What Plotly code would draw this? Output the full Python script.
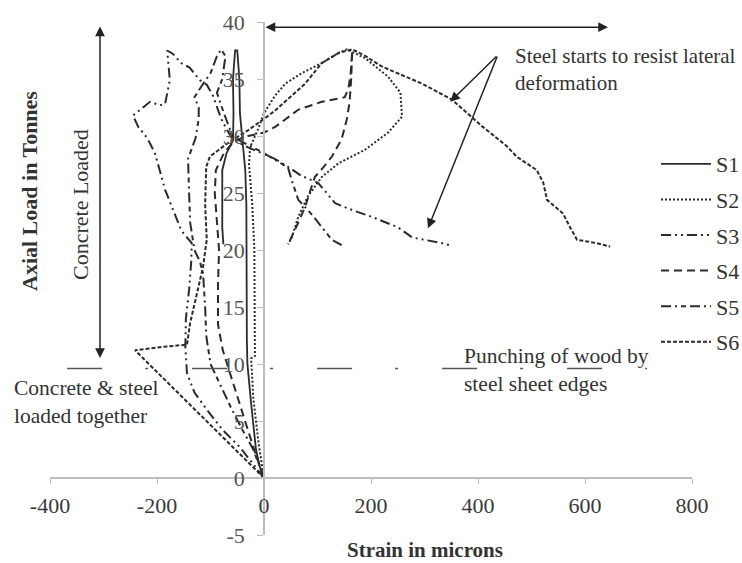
import plotly.graph_objects as go

# ---- data (strain in microns, axial load in tonnes) ----
s1_x = [0, -8, -15, -20, -24, -28, -31, -32, -32, -32, -33, -35, -40, -45, -46, -50, -54, -58, -57, -57, -58, -70, -78, -78, -78, -76]
s1_y = [0, 1, 2.5, 4.5, 6.5, 8.5, 10, 12, 16, 20, 24, 27, 29.5, 32, 35, 37.5, 37.5, 35, 32, 30.5, 29.6, 28.5, 27, 24, 22, 20.5]

s2_x = [0, -10, -20, -24, -17, -17, -18, -22, -28, -26, -12, 0, 20, 40, 70, 108, 140, 155, 190, 232, 255, 258, 232, 189, 139, 108, 82, 64, 52, 45]
s2_y = [0, 3, 7, 10.5, 10.7, 15, 20, 24, 27.5, 29, 30.5, 32, 33.5, 34.6, 35.5, 36.4, 37.3, 37.6, 36.8, 35.2, 33.8, 31.7, 30.3, 28.8, 27.6, 26.4, 24.7, 22.9, 21.1, 20.5]

s3_x = [0, -45, -77, -107, -130, -144, -147, -146, -140, -136, -135, -151, -157, -170, -185, -195, -204, -218, -235, -245, -232, -213, -195, -185, -176, -181, -170, -155, -139, -120, -107, -95, -80, -65, -55, -30, -4, 20, 45, 70, 101, 133, 165, 202, 250, 277, 333, 348]
s3_y = [0, 2.7, 4.2, 6, 7.5, 9.2, 11.5, 14, 16.5, 19, 20.6, 21.5, 22, 23.5, 25.3, 27, 28.5, 29.8, 30.8, 31.8, 32.3, 33, 32.7, 32.8, 34.9, 37.5, 37.2, 36.4, 36, 34.9, 34.5, 33.5, 31.5, 30.2, 29.6, 29, 28.5, 28, 27.3, 26.5, 25.9, 24.1, 23.5, 22.9, 22, 21.1, 20.6, 20.4]

s4_x = [0, -15, -32, -50, -64, -77, -86, -86, -84, -88, -92, -90, -75, -55, -30, 0, 21, 64, 108, 140, 151, 158, 162, 165, 163, 160, 155, 145, 127, 110, 95, 85, 77, 65, 58, 50, 45]
s4_y = [0, 2, 4.5, 7.1, 9.2, 11.2, 13.5, 17, 20, 22.5, 25, 27, 28.5, 29.6, 30, 30.3, 30.8, 32.3, 33, 33.3, 33.4, 34.2, 35.5, 37.5, 35, 33, 31.5, 29.7, 28.2, 27.2, 26.4, 25, 23.8, 22.5, 21.8, 21, 20.5]

s5_x = [0, -20, -40, -60, -80, -100, -108, -110, -114, -120, -130, -138, -140, -142, -128, -122, -122, -130, -115, -100, -88, -80, -72, -78, -88, -75, -58, -30, -4, 25, 45, 52, 64, 80, 95, 108, 127, 146]
s5_y = [0, 2.5, 4.2, 6, 8, 10, 12.5, 15, 18, 19, 20, 22.4, 25, 28, 29.8, 31.5, 32.5, 33.4, 34.5, 35.5, 37, 37.6, 37, 35, 33.8, 32, 29.9, 29.2, 28.6, 27.8, 27.2, 26.1, 24.4, 23.6, 22.8, 22, 20.9, 20.4]

s6_x = [0, -60, -120, -180, -241, -190, -144, -138, -125, -114, -107, -110, -108, -101, -70, -30, 0, 20, 39, 77, 108, 140, 165, 190, 220, 295, 351, 409, 454, 472, 510, 522, 529, 559, 572, 585, 622, 647]
s6_y = [0, 2.8, 5.6, 8.4, 11.2, 11.5, 11.7, 13.6, 16.2, 18.5, 20.9, 24, 27.3, 28.2, 29.3, 30.5, 31.5, 32.2, 33, 34.6, 36.4, 37.3, 37.6, 37, 36.1, 34.6, 33.2, 30.8, 29.1, 28.2, 27, 25.9, 24.4, 23.2, 22, 20.9, 20.6, 20.3]

series_names = ["S1", "S2", "S3", "S4", "S5", "S6"]
x_ticks = [-400, -200, 0, 200, 400, 600, 800]
y_ticks = [-5, 0, 5, 10, 15, 20, 25, 30, 35, 40]

series = [(s1_x, s1_y), (s2_x, s2_y), (s3_x, s3_y), (s4_x, s4_y), (s5_x, s5_y), (s6_x, s6_y)]
dashes = ["solid", "2px,2px", "10px,4px,2px,4px,2px,4px", "8px,5px", "10px,4px,2px,4px,5px,4px", "4px,2px"]
widths = [1.8, 2, 2, 2, 2, 2]

FONT = "Liberation Serif, Times New Roman, serif"
INK = "#2b2b2b"
TXT = "#333333"

fig = go.Figure()
for i, (name, (xs, ys)) in enumerate(zip(series_names, series)):
    fig.add_trace(go.Scatter(
        x=xs, y=ys, mode="lines", name=name, legendgroup=name,
        line=dict(color=INK, width=widths[i], dash=dashes[i]),
    ))

L, R, T, B = 50, 50, 22, 28
W, H = 742, 563
pw, ph = W - L - R, H - T - B

def px2paper(px, py):
    return (px - L) / pw, (H - B - py) / ph

fig.update_layout(
    width=W, height=H,
    margin=dict(l=L, r=R, t=T, b=B, pad=0, autoexpand=False),
    paper_bgcolor="white", plot_bgcolor="white",
    font=dict(family=FONT, size=22, color=TXT),
    showlegend=True,
    legend=dict(
        x=px2paper(656, 0)[0], y=px2paper(0, 143)[1], xanchor="left", yanchor="top",
        traceorder="grouped", tracegroupgap=4, itemwidth=50,
        font=dict(family=FONT, size=22, color=TXT), bgcolor="rgba(0,0,0,0)",
    ),
    xaxis=dict(
        range=[-400, 800], tickvals=x_ticks, ticktext=[str(v) for v in x_ticks],
        showgrid=False, zeroline=False, showline=True, linecolor="#bdbdbd", linewidth=1.5,
        ticks="outside", ticklen=5, tickcolor="#bdbdbd", ticklabelstandoff=3,
        anchor="free", position=5 / 45,
        tickfont=dict(family=FONT, size=22, color="#3a3a3a"),
    ),
    yaxis=dict(
        range=[-5, 40], tickvals=y_ticks, ticktext=[str(v) for v in y_ticks],
        showgrid=False, zeroline=False, showline=True, linecolor="#bdbdbd", linewidth=1.5,
        ticks="outside", ticklen=6, tickcolor="#bdbdbd", ticklabelstandoff=8,
        anchor="free", position=400 / 1200,
        tickfont=dict(family=FONT, size=22, color="#555555"),
    ),
)

# dash-dot reference line ("punching" level)
fig.add_shape(type="line", xref="x", yref="y", x0=-368, x1=716, y0=9.6, y1=9.6,
              line=dict(color="#555555", width=1.5, dash="35px,43px,3px,44px"))

def arrow(x0, y0, x1, y1, both=False):
    fig.add_annotation(x=x1, y=y1, ax=x0, ay=y0, xref="x", yref="y", axref="x", ayref="y",
                       showarrow=True, arrowhead=2, startarrowhead=2, arrowsize=1.3,
                       startarrowsize=1.3, arrowwidth=1.5,
                       arrowside="end+start" if both else "end",
                       arrowcolor="#222222", text="")

# vertical double arrow (Concrete Loaded)
arrow(-306.5, 10.4, -306.5, 39.6, both=True)
# horizontal double arrow at top
arrow(0, 39.55, 643, 39.55, both=True)
# steel arrows
arrow(437, 37.1, 348, 33.0)
arrow(437, 37.1, 306.5, 21.9)

def text(px, py, s, size=21.5, anchor="left", angle=0, bold=False):
    x, y = px2paper(px, py)
    fig.add_annotation(x=x, y=y, xref="paper", yref="paper", text=("<b>%s</b>" % s) if bold else s,
                       showarrow=False, xanchor=anchor, yanchor="middle", align="left",
                       textangle=angle, font=dict(family=FONT, size=size, color=TXT))

text(513, 69, "Steel starts to resist lateral<br>deformation", size=21)
text(12, 402, "Concrete &amp; steel<br>loaded together")
text(462, 370, "Punching of wood by<br>steel sheet edges")
text(80, 205, "Concrete Loaded", size=22, anchor="center", angle=-90)
text(29, 191, "Axial Load in Tonnes", size=22, anchor="center", angle=-90, bold=True)
text(425, 550, "Strain in microns", size=21, anchor="center", bold=True)

fig.write_html("out.html")
